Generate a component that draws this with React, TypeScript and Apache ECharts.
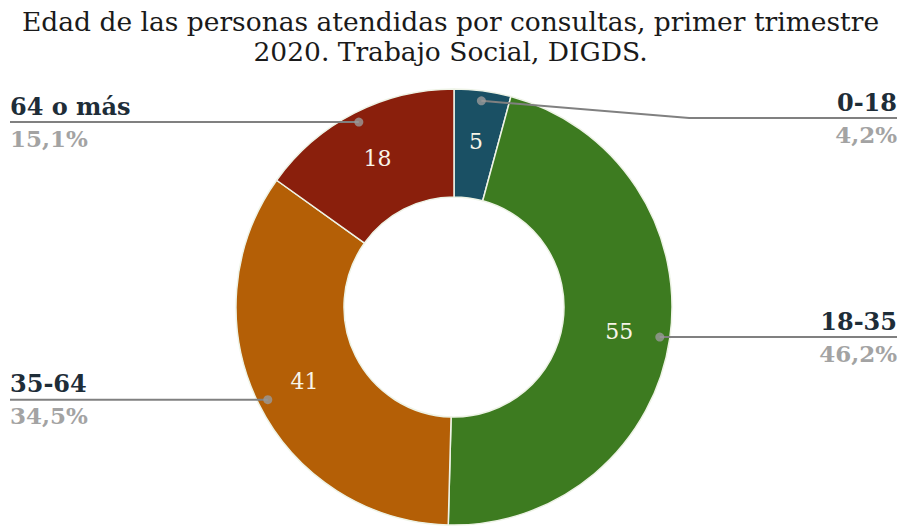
import { useEffect, useRef } from 'react';
import * as echarts from 'echarts';

const categories = ['0-18', '18-35', '35-64', '64 o más'];
const values = [5, 55, 41, 18];
const colors = ['#1a5064', '#3d7b20', '#b45f06', '#8a1f0c'];
const titleLines = [
  'Edad de las personas atendidas por consultas, primer trimestre',
  '2020. Trabajo Social, DIGDS.',
];

const SERIF = '"DejaVu Serif", serif';
const LABEL_FONT = '"DejaVu Serif", serif';

export default function App() {
  const ref = useRef<HTMLDivElement>(null);
  useEffect(() => {
    const chart = echarts.init(ref.current!, undefined, { renderer: 'svg' });
    const CX = 454;
    const CY = 307;
    const TOP = 89;
    const LEFT = 6;
    const R_OUT = 218;
    const R_IN = 110;
    const R_DOT = 208;
    const total = values.reduce((a, b) => a + b, 0);
    let cum = 0;
    const mids = values.map((v) => {
      const m = cum + v / 2;
      cum += v;
      return m;
    });
    const donutData = categories.map((c, i) => ({
      name: c,
      value: values[i],
      itemStyle: { color: colors[i] },
    }));
    const ghostData = categories.map((c, i) => ({
      name: c,
      value: values[i],
      itemStyle: { color: 'rgba(0,0,0,0)' },
    }));
    const option = {
      animation: false,
      title: titleLines.map((t, i) => ({
        text: t,
        left: 'center',
        top: 6 + i * 30,
        padding: 0,
        textStyle: {
          fontFamily: SERIF,
          fontSize: 26.5,
          fontWeight: 'normal',
          color: '#1a1a1a',
          lineHeight: 30,
        },
      })),
      polar: { center: [CX, CY], radius: R_OUT },
      angleAxis: {
        type: 'value',
        min: 0,
        max: total,
        startAngle: 90,
        clockwise: true,
        show: false,
      },
      radiusAxis: { type: 'value', min: 0, max: R_OUT, show: false },
      series: [
        {
          type: 'pie',
          top: TOP,
          left: LEFT,
          right: 0,
          bottom: 0,
          center: [CX - LEFT, CY - TOP],
          radius: [R_IN, R_OUT],
          startAngle: 90,
          clockwise: true,
          silent: true,
          emphasis: { disabled: true },
          data: donutData,
          itemStyle: { borderColor: '#eef3e6', borderWidth: 1.5 },
          label: {
            show: true,
            position: 'inside',
            formatter: '{c}',
            fontFamily: LABEL_FONT,
            fontSize: 22,
            color: '#f8f5e8',
          },
          labelLine: { show: false },
        },
        {
          type: 'pie',
          top: TOP,
          left: LEFT,
          right: 0,
          bottom: 0,
          center: [CX - LEFT, CY - TOP],
          radius: [0, R_DOT],
          startAngle: 90,
          clockwise: true,
          silent: true,
          emphasis: { disabled: true },
          data: ghostData,
          z: 3,
          label: {
            show: true,
            position: 'outside',
            alignTo: 'edge',
            edgeDistance: 4,
            formatter: (p: any) =>
              `{n|${p.name}}\n{p|${((p.value / total) * 100).toFixed(1).replace('.', ',')}%}`,
            rich: {
              n: {
                fontFamily: LABEL_FONT,
                fontWeight: 'bold',
                fontSize: 24,
                color: '#1e2d38',
                lineHeight: 32,
              },
              p: {
                fontFamily: LABEL_FONT,
                fontWeight: 'bold',
                fontSize: 23,
                color: '#a3a3a3',
                lineHeight: 32,
              },
            },
          },
          labelLine: {
            show: true,
            length: 0,
            length2: 0,
            lineStyle: { color: '#808080', width: 2 },
          },
          labelLayout: (params: any) => {
            const pts = params.labelLinePoints;
            if (!pts) return {};
            const isLeft = params.labelRect.x < CX;
            const endX = isLeft
              ? params.labelRect.x
              : params.labelRect.x + params.labelRect.width;
            pts[1][0] = (pts[0][0] + endX) / 2;
            pts[2][0] = endX;
            return { labelLinePoints: pts };
          },
        },
        {
          type: 'scatter',
          coordinateSystem: 'polar',
          silent: true,
          z: 5,
          symbolSize: 9,
          itemStyle: { color: '#9a9a9a' },
          data: mids.map((m) => [R_DOT, m]),
        },
      ],
    };
    chart.setOption(option as any);
    return () => chart.dispose();
  }, []);
  return (
    <div
      ref={ref}
      style={{ position: 'absolute', left: 0, top: 0, width: 901, height: 527 }}
    />
  );
}
